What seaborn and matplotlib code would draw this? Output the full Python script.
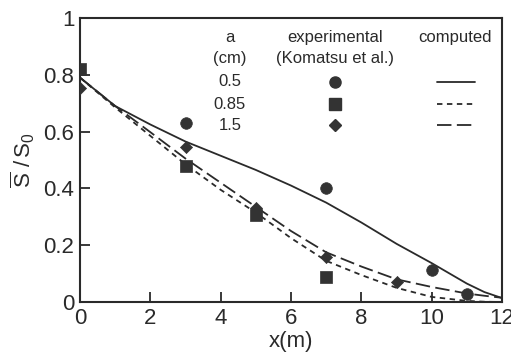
import numpy as np
import pandas as pd
import matplotlib
matplotlib.use("Agg")
import matplotlib.pyplot as plt
import seaborn as sns

# ---- data ----
a_values = ["0.5", "0.85", "1.5"]

exp_x_05 = [3, 7, 10, 11]
exp_y_05 = [0.63, 0.40, 0.113, 0.027]
exp_x_085 = [0, 3, 5, 7]
exp_y_085 = [0.82, 0.48, 0.305, 0.088]
exp_x_15 = [0, 3, 5, 7, 9]
exp_y_15 = [0.755, 0.546, 0.332, 0.158, 0.072]

comp_x = [0, 1, 2, 3, 4, 5, 6, 7, 8, 9, 10, 11, 11.5, 12]
comp_y_05 = [0.79, 0.69, 0.625, 0.565, 0.515, 0.465, 0.41, 0.35, 0.28, 0.205, 0.137, 0.065, 0.035, 0.014]
comp_y_085 = [0.79, 0.685, 0.585, 0.485, 0.395, 0.315, 0.225, 0.145, 0.095, 0.05, 0.018, 0.004, 0.001, 0.0]
comp_y_15 = [0.79, 0.69, 0.598, 0.505, 0.42, 0.335, 0.25, 0.175, 0.125, 0.08, 0.053, 0.03, 0.022, 0.015]

x_ticks = [0, 2, 4, 6, 8, 10, 12]
y_ticks = [0, 0.2, 0.4, 0.6, 0.8, 1]
y_tick_labels = ["0", "0.2", "0.4", "0.6", "0.8", "1"]

# ---- styling ----
sns.set_theme(style="ticks")
plt.rcParams["font.family"] = ["Liberation Sans", "DejaVu Sans"]
plt.rcParams["mathtext.fontset"] = "custom"
plt.rcParams["mathtext.rm"] = "Liberation Sans"
plt.rcParams["mathtext.it"] = "Liberation Sans"

ink = "#2a2a2a"
marker_col = "#333333"

fig = plt.figure(figsize=(5.11, 3.57), dpi=100)
ax = fig.add_axes([0.1566, 0.154, 0.8258, 0.7956])

exp_df = pd.concat([
    pd.DataFrame({"x": exp_x_05, "y": exp_y_05, "a": a_values[0]}),
    pd.DataFrame({"x": exp_x_085, "y": exp_y_085, "a": a_values[1]}),
    pd.DataFrame({"x": exp_x_15, "y": exp_y_15, "a": a_values[2]}),
])
comp_df = pd.concat([
    pd.DataFrame({"x": comp_x, "y": comp_y_05, "a": a_values[0]}),
    pd.DataFrame({"x": comp_x, "y": comp_y_085, "a": a_values[1]}),
    pd.DataFrame({"x": comp_x, "y": comp_y_15, "a": a_values[2]}),
])

dash_map = {a_values[0]: "", a_values[1]: (3, 2.5), a_values[2]: (8, 3)}
sns.lineplot(data=comp_df, x="x", y="y", style="a", dashes=dash_map,
             color=ink, linewidth=1.3, ax=ax, legend=False, sort=False)

marker_map = {a_values[0]: "o", a_values[1]: "s", a_values[2]: "D"}
size_map = {a_values[0]: 70, a_values[1]: 80, a_values[2]: 38}
for a in a_values:
    sub = exp_df[exp_df["a"] == a]
    sns.scatterplot(data=sub, x="x", y="y", marker=marker_map[a], s=size_map[a],
                    color=marker_col, edgecolor=marker_col, linewidth=0.5,
                    ax=ax, legend=False, zorder=3)

ax.set_xlim(0, 12)
ax.set_ylim(0, 1)
ax.set_xticks(x_ticks)
ax.set_xticklabels([str(t) for t in x_ticks])
ax.set_yticks(y_ticks)
ax.set_yticklabels(y_tick_labels)
ax.tick_params(direction="in", length=7, width=1.3, labelsize=16, colors=ink,
               pad=4, top=False, right=False)
for sp in ax.spines.values():
    sp.set_linewidth(1.5)
    sp.set_color(ink)
    sp.set_visible(True)

ax.set_xlabel("x(m)", fontsize=16, color=ink, labelpad=2)
ax.set_ylabel(r"$\overline{\mathrm{S}}\ /\,\mathrm{S}_0$", fontsize=16, color=ink, labelpad=5)

# ---- hand-made legend table ----
fs = 12
tx = ax.transAxes
ax.text(0.355, 0.933, "a", transform=tx, ha="center", va="center", fontsize=fs, color=ink)
ax.text(0.355, 0.859, "(cm)", transform=tx, ha="center", va="center", fontsize=fs, color=ink)
ax.text(0.604, 0.933, "experimental", transform=tx, ha="center", va="center", fontsize=fs, color=ink)
ax.text(0.604, 0.859, "(Komatsu et al.)", transform=tx, ha="center", va="center", fontsize=fs, color=ink)
ax.text(0.889, 0.933, "computed", transform=tx, ha="center", va="center", fontsize=fs, color=ink)

row_y = [0.775, 0.697, 0.623]
mk_sizes = {a_values[0]: 8, a_values[1]: 8.5, a_values[2]: 6}
for a, yy in zip(a_values, row_y):
    ax.text(0.355, yy, a, transform=tx, ha="center", va="center", fontsize=fs, color=ink)
    ax.plot([0.604], [yy], transform=tx, marker=marker_map[a], ms=mk_sizes[a],
            color=marker_col, linestyle="none", clip_on=False)
    ln, = ax.plot([0.846, 0.936], [yy, yy], transform=tx, color=ink, linewidth=1.3)
    if dash_map[a]:
        ln.set_dashes(dash_map[a])

fig.savefig("out.png", dpi=100)
